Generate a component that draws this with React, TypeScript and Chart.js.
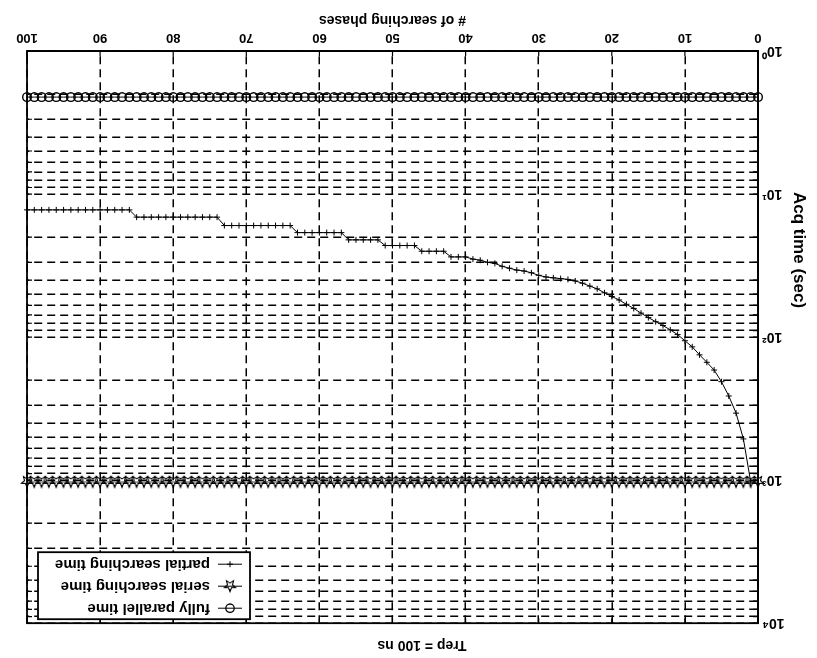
import React, { useEffect, useRef } from 'react';
import { Chart, registerables } from 'chart.js';

Chart.register(...registerables);

// # of searching phases (x values)
const PHASES = [
  0, 1, 2, 3, 4, 5, 6, 7, 8, 9, 10, 11, 12, 13, 14, 15, 16, 17, 18, 19, 20,
  21, 22, 23, 24, 25, 26, 27, 28, 29, 30, 31, 32, 33, 34, 35, 36, 37, 38, 39, 40,
  41, 42, 43, 44, 45, 46, 47, 48, 49, 50, 51, 52, 53, 54, 55, 56, 57, 58, 59, 60,
  61, 62, 63, 64, 65, 66, 67, 68, 69, 70, 71, 72, 73, 74, 75, 76, 77, 78, 79, 80,
  81, 82, 83, 84, 85, 86, 87, 88, 89, 90, 91, 92, 93, 94, 95, 96, 97, 98, 99, 100,
];

// fully parallel time (sec), one value per phase count 0..100
const FULLY_PARALLEL = [
  2.1, 2.1, 2.1, 2.1, 2.1, 2.1, 2.1, 2.1, 2.1, 2.1, 2.1, 2.1, 2.1, 2.1, 2.1, 2.1, 2.1, 2.1, 2.1, 2.1, 2.1,
  2.1, 2.1, 2.1, 2.1, 2.1, 2.1, 2.1, 2.1, 2.1, 2.1, 2.1, 2.1, 2.1, 2.1, 2.1, 2.1, 2.1, 2.1, 2.1, 2.1,
  2.1, 2.1, 2.1, 2.1, 2.1, 2.1, 2.1, 2.1, 2.1, 2.1, 2.1, 2.1, 2.1, 2.1, 2.1, 2.1, 2.1, 2.1, 2.1, 2.1,
  2.1, 2.1, 2.1, 2.1, 2.1, 2.1, 2.1, 2.1, 2.1, 2.1, 2.1, 2.1, 2.1, 2.1, 2.1, 2.1, 2.1, 2.1, 2.1, 2.1,
  2.1, 2.1, 2.1, 2.1, 2.1, 2.1, 2.1, 2.1, 2.1, 2.1, 2.1, 2.1, 2.1, 2.1, 2.1, 2.1, 2.1, 2.1, 2.1, 2.1,
];

// serial searching time (sec), one value per phase count 0..100
const SERIAL = [
  1030, 1030, 1030, 1030, 1030, 1030, 1030, 1030, 1030, 1030, 1030, 1030, 1030, 1030, 1030, 1030, 1030, 1030, 1030, 1030, 1030,
  1030, 1030, 1030, 1030, 1030, 1030, 1030, 1030, 1030, 1030, 1030, 1030, 1030, 1030, 1030, 1030, 1030, 1030, 1030, 1030,
  1030, 1030, 1030, 1030, 1030, 1030, 1030, 1030, 1030, 1030, 1030, 1030, 1030, 1030, 1030, 1030, 1030, 1030, 1030, 1030,
  1030, 1030, 1030, 1030, 1030, 1030, 1030, 1030, 1030, 1030, 1030, 1030, 1030, 1030, 1030, 1030, 1030, 1030, 1030, 1030,
  1030, 1030, 1030, 1030, 1030, 1030, 1030, 1030, 1030, 1030, 1030, 1030, 1030, 1030, 1030, 1030, 1030, 1030, 1030, 1030,
];

// partial searching time (sec), phase counts 1..100
const PARTIAL_PHASES = PHASES.slice(1);
const PARTIAL = [
  1030, 515, 340, 258, 205, 170, 150, 133, 117, 106,
  96, 89, 83, 78, 73, 68, 63, 59, 55, 52,
  49, 46, 44, 42, 40.5, 39.5, 39, 38.5, 38, 37,
  35.5, 34.5, 34, 33, 32, 30.5, 30, 29, 28.5, 27.5,
  27.5, 27.5, 25.1, 25.1, 25.1, 25.1, 22.9, 22.9, 22.9, 22.9,
  22.9, 20.9, 20.9, 20.9, 20.9, 20.9, 18.6, 18.6, 18.6, 18.6,
  18.6, 18.6, 18.6, 16.6, 16.6, 16.6, 16.6, 16.6, 16.6, 16.6,
  16.6, 16.6, 16.6, 14.5, 14.5, 14.5, 14.5, 14.5, 14.5, 14.5,
  14.5, 14.5, 14.5, 14.5, 14.5, 12.9, 12.9, 12.9, 12.9, 12.9,
  12.9, 12.9, 12.9, 12.9, 12.9, 12.9, 12.9, 12.9, 12.9, 12.9,
];

const X_TICKS = [0, 10, 20, 30, 40, 50, 60, 70, 80, 90, 100];
const Y_TICKS = [
  1, 2, 3, 4, 5, 6, 7, 8, 9,
  10, 20, 30, 40, 50, 60, 70, 80, 90,
  100, 200, 300, 400, 500, 600, 700, 800, 900,
  1000, 2000, 3000, 4000, 5000, 6000, 7000, 8000, 9000,
  10000,
];
const Y_LABELS: Record<number, string> = {
  1: '10\u2070',
  10: '10\u00B9',
  100: '10\u00B2',
  1000: '10\u00B3',
  10000: '10\u2074',
};

const TITLE = 'Trep = 100 ns';
const X_TITLE = '# of searching phases';
const Y_TITLE = 'Acq time (sec)';
const SERIES_NAMES = ['fully parallel time', 'serial searching time', 'partial searching time'];

const FONT = "'Liberation Sans', Arial, Helvetica, sans-serif";

function makeStar(): HTMLCanvasElement {
  const c = document.createElement('canvas');
  c.width = 14;
  c.height = 14;
  const g = c.getContext('2d')!;
  g.strokeStyle = '#000';
  g.lineWidth = 1.1;
  g.beginPath();
  for (let i = 0; i < 10; i++) {
    const r = i % 2 === 0 ? 6 : 2.6;
    const a = -Math.PI / 2 + (i * Math.PI) / 5;
    const x = 7 + r * Math.cos(a);
    const y = 7.5 + r * Math.sin(a);
    if (i === 0) g.moveTo(x, y);
    else g.lineTo(x, y);
  }
  g.closePath();
  g.stroke();
  return c;
}

export default function App() {
  const ref = useRef<HTMLCanvasElement | null>(null);

  useEffect(() => {
    if (!ref.current) return;
    const star = makeStar();

    const framePlugin = {
      id: 'frame',
      afterDraw(chart: any) {
        const { ctx, chartArea: ca, scales } = chart;
        ctx.save();
        ctx.strokeStyle = '#000';
        ctx.lineWidth = 1.8;
        ctx.setLineDash([]);
        ctx.strokeRect(ca.left, ca.top, ca.right - ca.left, ca.bottom - ca.top);
        ctx.lineWidth = 1.2;
        ctx.beginPath();
        for (const v of Y_TICKS) {
          const y = scales.y.getPixelForValue(v);
          ctx.moveTo(ca.left, y);
          ctx.lineTo(ca.left + 5, y);
          ctx.moveTo(ca.right, y);
          ctx.lineTo(ca.right - 5, y);
        }
        for (const v of X_TICKS) {
          const x = scales.x.getPixelForValue(v);
          ctx.moveTo(x, ca.bottom);
          ctx.lineTo(x, ca.bottom - 5);
          ctx.moveTo(x, ca.top);
          ctx.lineTo(x, ca.top + 5);
        }
        ctx.stroke();

        // y axis title
        ctx.save();
        ctx.translate(18.5, 408);
        ctx.rotate(-Math.PI / 2);
        ctx.fillStyle = '#000';
        ctx.font = `bold 17px ${FONT}`;
        ctx.textAlign = 'center';
        ctx.textBaseline = 'middle';
        ctx.fillText(Y_TITLE, 0, 0);
        ctx.restore();

        // legend box
        const w = 212;
        const h = 67;
        const L = ca.right - 11 - w;
        const T = ca.top + 4;
        ctx.fillStyle = '#fff';
        ctx.fillRect(L, T, w, h);
        ctx.lineWidth = 1.8;
        ctx.strokeRect(L, T, w, h);
        ctx.font = `bold 15px ${FONT}`;
        ctx.textAlign = 'left';
        ctx.textBaseline = 'middle';
        const rows = [T + 11, T + 33, T + 55];
        rows.forEach((y, i) => {
          ctx.lineWidth = 1;
          ctx.strokeStyle = '#000';
          ctx.beginPath();
          ctx.moveTo(L + 8, y);
          ctx.lineTo(L + 32, y);
          ctx.stroke();
          const mx = L + 20;
          if (i === 0) {
            ctx.lineWidth = 1.3;
            ctx.beginPath();
            ctx.arc(mx, y, 4.2, 0, Math.PI * 2);
            ctx.stroke();
          } else if (i === 1) {
            ctx.drawImage(star, mx - 7, y - 7);
          } else {
            ctx.beginPath();
            ctx.moveTo(mx - 3, y);
            ctx.lineTo(mx + 3, y);
            ctx.moveTo(mx, y - 3);
            ctx.lineTo(mx, y + 3);
            ctx.stroke();
          }
          ctx.fillStyle = '#000';
          ctx.fillText(SERIES_NAMES[i], L + 40, y);
        });
        ctx.restore();
      },
    };

    const tickFont = { family: FONT, size: 14, weight: 'bold' as const };

    const chart = new Chart(ref.current, {
      type: 'line',
      data: {
        datasets: [
          {
            label: SERIES_NAMES[0],
            data: PHASES.map((x, i) => ({ x, y: FULLY_PARALLEL[i] })),
            borderColor: '#000',
            borderWidth: 1,
            pointStyle: 'circle',
            pointRadius: 4.3,
            pointBorderWidth: 1.4,
            pointBorderColor: '#000',
            pointBackgroundColor: 'rgba(0,0,0,0)',
            clip: false as any,
          },
          {
            label: SERIES_NAMES[1],
            data: PHASES.map((x, i) => ({ x, y: SERIAL[i] })),
            borderColor: '#000',
            borderWidth: 0.8,
            pointStyle: star as any,
            pointRadius: 6,
            clip: false as any,
          },
          {
            label: SERIES_NAMES[2],
            data: PARTIAL_PHASES.map((x, i) => ({ x, y: PARTIAL[i] })),
            borderColor: '#000',
            borderWidth: 1,
            pointStyle: 'cross',
            pointRadius: 3,
            pointBorderWidth: 1,
            pointBorderColor: '#000',
            clip: false as any,
          },
        ],
      },
      options: {
        responsive: false,
        animation: false,
        devicePixelRatio: 1,
        layout: { padding: { left: 0, right: 27, top: 0, bottom: 0 } },
        plugins: {
          legend: { display: false },
          tooltip: { enabled: false },
          title: {
            display: true,
            text: TITLE,
            color: '#000',
            font: { family: FONT, size: 14, weight: 'bold' },
            padding: { top: 5, bottom: 13 },
          },
        },
        scales: {
          x: {
            type: 'linear',
            min: 0,
            max: 100,
            afterFit(s: any) {
              s.height = 51;
            },
            afterBuildTicks(s: any) {
              s.ticks = X_TICKS.map((v) => ({ value: v }));
            },
            ticks: {
              color: '#000',
              font: { family: FONT, size: 13, weight: 'bold' },
              padding: 6,
              autoSkip: false,
              maxRotation: 0,
              callback: (v: any) => String(v),
            },
            grid: { color: '#000', lineWidth: 1.5, drawTicks: false },
            border: { display: true, color: '#000', width: 1.8, dash: [8, 5] },
            title: {
              display: true,
              text: X_TITLE,
              color: '#000',
              font: { family: FONT, size: 14, weight: 'bold' },
              padding: { top: 0, bottom: 11 },
            },
          },
          y: {
            type: 'logarithmic',
            min: 1,
            max: 10000,
            afterFit(s: any) {
              s.width = 59;
            },
            afterBuildTicks(s: any) {
              s.ticks = Y_TICKS.map((v) => ({ value: v, major: v in Y_LABELS }));
            },
            ticks: {
              color: '#000',
              font: tickFont,
              padding: 4,
              autoSkip: false,
              callback: (v: any) => Y_LABELS[Number(v)] ?? '',
            },
            grid: { color: '#000', lineWidth: 1.5, drawTicks: false },
            border: { display: true, color: '#000', width: 1.8, dash: [8, 5] },
          },
        },
      },
      plugins: [framePlugin],
    } as any);

    return () => chart.destroy();
  }, []);

  return (
    <div
      style={{
        position: 'absolute',
        left: 0,
        top: 0,
        width: 817,
        height: 658,
        background: '#fff',
        transform: 'rotate(180deg)',
      }}
    >
      <canvas ref={ref} width={817} height={658} style={{ display: 'block' }} />
    </div>
  );
}
